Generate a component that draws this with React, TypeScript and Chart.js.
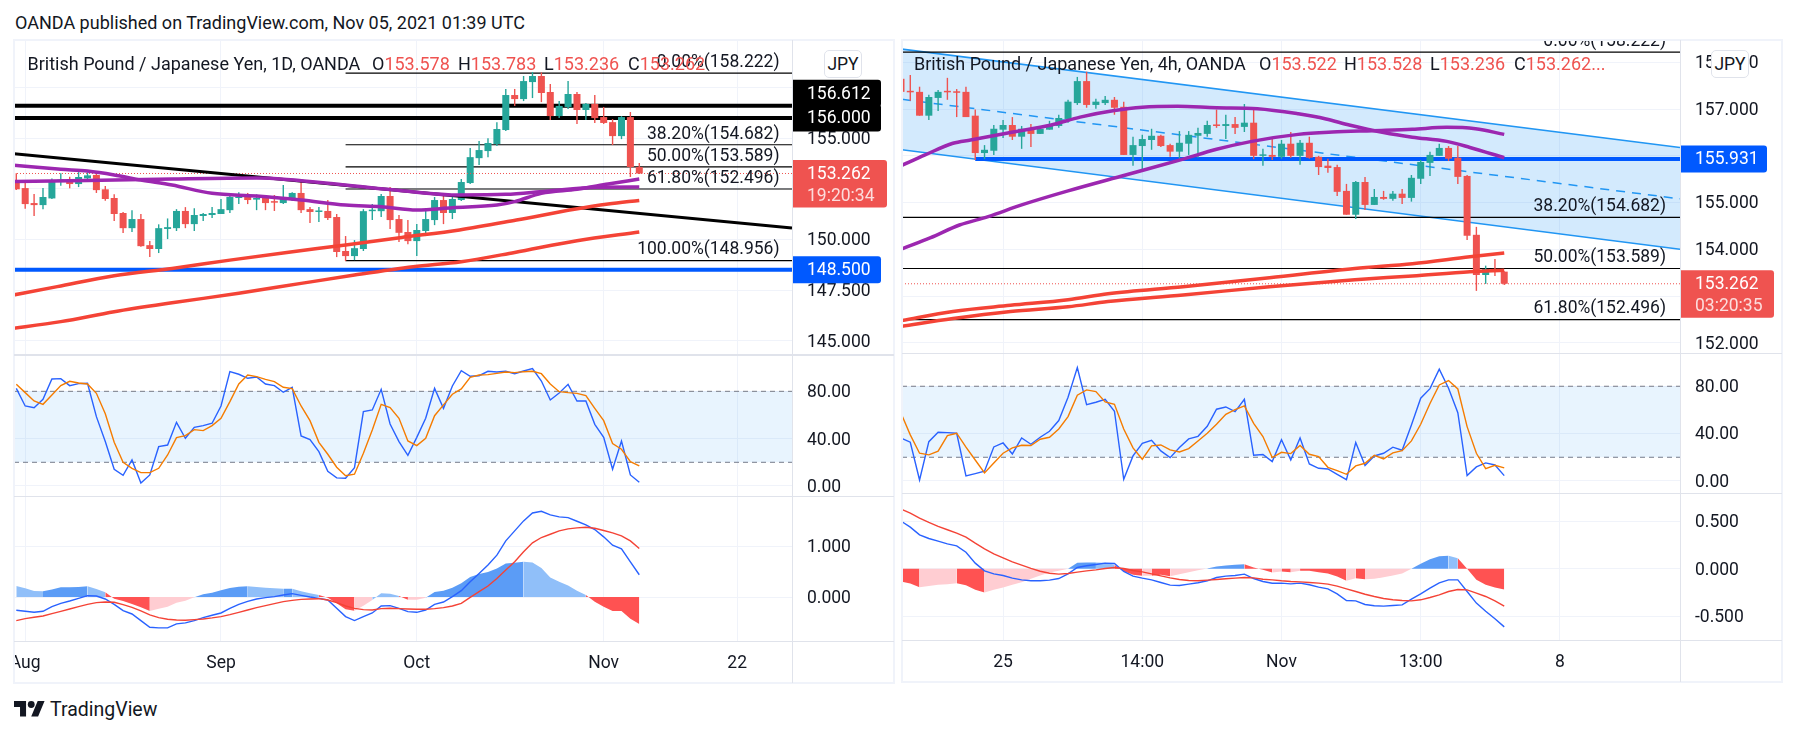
import React, { useEffect, useRef } from "react";
import { Chart, registerables } from "chart.js";
Chart.register(...registerables);

/* ---------- daily (left) ---------- */
type C = [number, number, number, number]; // open, high, low, close
const dailyCandles: C[] = [
  [152.94,153.27,152.44,152.48],[152.54,152.90,151.52,151.75],[151.80,152.25,151.16,151.70],[151.70,152.54,151.49,152.10],
  [152.03,153.02,152.00,152.94],[152.89,153.27,152.66,152.94],[152.94,153.10,152.53,152.74],[152.74,153.33,152.59,153.09],
  [153.02,153.32,152.86,153.17],[153.19,153.28,152.30,152.44],[152.48,152.64,151.92,152.00],[152.05,152.23,150.91,151.26],
  [151.31,151.36,150.32,150.56],[150.56,151.45,150.37,151.01],[151.01,151.26,149.64,149.67],[149.72,149.92,149.13,149.53],
  [149.53,150.75,149.33,150.56],[150.52,151.04,150.02,150.61],[150.56,151.50,150.42,151.41],[151.41,151.60,150.56,150.76],
  [150.76,151.55,150.42,151.21],[151.16,151.31,150.91,151.26],[151.21,151.60,151.06,151.31],[151.26,152.00,151.26,151.50],
  [151.45,152.25,151.31,152.10],[152.05,152.34,151.75,152.10],[152.10,152.30,151.75,151.95],[151.97,152.23,151.45,152.05],
  [152.05,152.15,151.45,151.80],[151.85,152.20,151.41,151.82],[151.80,152.69,151.75,152.10],[152.05,152.34,151.90,152.30],
  [152.30,152.89,151.31,151.45],[151.50,151.60,150.81,151.36],[151.36,151.60,150.86,151.41],[151.41,151.95,150.96,151.06],
  [151.11,151.26,149.13,149.38],[149.43,150.17,148.93,149.18],[149.18,149.97,148.98,149.57],[149.53,151.50,149.43,151.40],
  [151.40,151.75,150.96,151.45],[151.40,152.25,151.11,152.15],[152.15,152.59,150.52,150.96],[151.01,151.21,149.87,150.33],
  [150.37,150.96,149.77,149.92],[149.92,150.76,149.18,150.47],[150.42,151.55,150.17,151.01],[150.96,152.10,150.71,151.95],
  [151.95,152.20,150.76,151.31],[151.31,152.15,151.01,152.00],[151.95,152.99,151.90,152.84],[152.79,154.52,152.74,154.07],
  [154.02,154.87,153.68,154.42],[154.37,155.01,154.07,154.77],[154.72,155.80,154.62,155.46],[155.41,157.44,155.36,157.14],
  [157.14,157.44,156.60,156.94],[156.94,158.08,156.84,157.83],[157.78,158.28,156.99,158.08],[158.08,158.26,156.79,157.24],
  [157.29,157.68,155.90,156.10],[156.10,156.84,156.00,156.60],[156.55,157.83,156.45,157.19],[157.19,157.29,155.71,156.40],
  [156.40,156.74,155.90,156.70],[156.70,157.14,155.76,156.00],[156.05,156.55,155.71,155.76],[155.80,155.95,154.67,155.11],
  [155.11,156.10,154.96,156.05],[156.05,156.30,153.09,153.58],[153.578,153.783,153.236,153.262],
];
const dailyMaFastA: [number, number][] = [[-1,153.70],[5,153.47],[8,153.38],[11,153.19],[14,152.94],[17.5,152.69],[22,152.28],[27,152.15],[32,151.95],[37,151.70],[41,151.62],[45,151.46],[49,151.57],[54,151.70],[56,151.87],[59,152.28],[63,152.48],[66.5,152.74],[70,152.99]];
const dailyMaFastB: [number, number][] = [[-1,152.86],[8,152.91],[17.5,152.99],[27,153.04],[30.4,152.97],[37,152.69],[43.3,152.41],[49.8,152.20],[55,152.23],[59.5,152.39],[65.3,152.58],[70,152.59]];
const dailyMaSlowA: [number, number][] = [[-1,147.20],[4.6,147.67],[11,148.21],[17.5,148.57],[24,148.98],[30.4,149.36],[37,149.73],[43.3,150.10],[49.8,150.47],[56.2,150.96],[62.7,151.49],[66.5,151.75],[70,151.93]];
const dailyMaSlowB: [number, number][] = [[-1,145.57],[5,145.94],[11,146.43],[17.5,146.87],[25,147.34],[32,147.83],[38,148.24],[44.6,148.65],[50,148.90],[56,149.36],[63,149.94],[70,150.37]];
const dailyTrend: [number, number][] = [[-0.26,154.24],[87.16,150.57]];
const dailyBlackLevels = [156.612, 156.0];
const dailyBlueLevel = 148.5;
const dailyFib: [string, number][] = [["0.00%(158.222)",158.222],["38.20%(154.682)",154.682],["50.00%(153.589)",153.589],["61.80%(152.496)",152.496],["100.00%(148.956)",148.956]];
const lastPrice = 153.262;
const dailyPriceTicks = [157.5,155,152.5,150,147.5,145];
const dailyTimeTicks: [number, string][] = [[1,"Aug"],[23,"Sep"],[45,"Oct"],[66,"Nov"],[81,"22"]];
const dailyStochK = [82.5,67.6,66.2,73.2,90.4,90.7,84.8,86.5,86.8,58.6,37.5,14.1,9.0,22.0,2.5,9.3,33.2,34.6,53.8,40.3,49.6,51.0,53.0,67.6,96.6,94.4,91.0,92.1,86.2,84.8,79.2,83.4,42.3,39.2,29.0,12.4,6.8,6.5,15.5,62.8,64.2,81.7,52.4,37.5,25.9,41.1,57.2,82.5,65.6,84.5,97.5,92.7,93.2,96.9,96.3,96.9,94.9,97.2,99.2,88.7,72.7,78.6,85.9,71.8,71.8,52.1,41.1,14.1,38.0,9.3,3.1];
const dailyStochD = [85.9,78.9,71.8,69.0,76.9,84.8,88.5,87.0,86.2,78.3,61.1,36.9,20.0,14.9,11.3,11.3,14.9,26.2,40.8,42.5,47.6,46.8,51.0,57.2,71.3,86.2,93.8,92.4,90.1,88.2,83.4,82.3,67.6,55.2,36.9,26.8,15.8,8.7,9.9,27.6,47.3,69.0,66.2,57.2,38.0,34.1,40.3,59.4,68.5,77.5,82.0,91.8,93.8,94.1,95.2,96.3,95.8,96.6,96.9,94.9,86.2,79.7,78.9,78.3,76.3,65.6,55.2,35.8,31.0,20.6,16.9];
const dailyMacd = [-0.263,-0.283,-0.303,-0.283,-0.191,-0.125,-0.079,-0.026,0.026,0.020,-0.039,-0.145,-0.270,-0.336,-0.467,-0.599,-0.612,-0.612,-0.533,-0.513,-0.467,-0.408,-0.362,-0.316,-0.224,-0.145,-0.086,-0.039,-0.013,0.007,0.039,0.066,0.033,0,-0.026,-0.059,-0.224,-0.388,-0.467,-0.388,-0.316,-0.178,-0.171,-0.224,-0.289,-0.303,-0.257,-0.145,-0.099,0.007,0.125,0.303,0.467,0.632,0.829,1.112,1.309,1.507,1.664,1.697,1.625,1.586,1.572,1.500,1.428,1.336,1.191,1.026,0.954,0.697,0.441];
const dailySignal = [-0.467,-0.428,-0.401,-0.375,-0.329,-0.283,-0.237,-0.191,-0.145,-0.112,-0.099,-0.105,-0.151,-0.204,-0.276,-0.355,-0.408,-0.441,-0.454,-0.461,-0.447,-0.434,-0.414,-0.388,-0.349,-0.303,-0.257,-0.211,-0.171,-0.132,-0.092,-0.066,-0.046,-0.039,-0.033,-0.059,-0.112,-0.178,-0.224,-0.250,-0.257,-0.230,-0.224,-0.230,-0.237,-0.243,-0.243,-0.230,-0.211,-0.178,-0.125,-0.007,0.105,0.217,0.368,0.533,0.697,0.895,1.072,1.178,1.243,1.309,1.349,1.368,1.382,1.362,1.316,1.270,1.211,1.112,0.961];
const dailyHist = [0.217,0.171,0.118,0.112,0.151,0.191,0.191,0.197,0.211,0.158,0.092,-0.033,-0.079,-0.138,-0.204,-0.276,-0.230,-0.191,-0.112,-0.072,-0.007,0.053,0.086,0.132,0.178,0.204,0.211,0.197,0.184,0.171,0.164,0.164,0.112,0.072,0.039,-0.013,-0.125,-0.243,-0.270,-0.171,-0.059,0.072,0.066,0.020,-0.053,-0.053,-0.013,0.099,0.125,0.184,0.270,0.395,0.454,0.493,0.566,0.664,0.678,0.697,0.684,0.572,0.388,0.303,0.230,0.125,0.039,-0.092,-0.191,-0.276,-0.276,-0.428,-0.533];
const dailyHistKinds = "LLLLDDDDDLLRRRRRPPPPPDDDDDDLLLLDLLLRRRRPPLLLRPPDDDDDDDDDDDLLLLLLLRRRRRR";

/* ---------- 4h (right) ---------- */
const h4Candles: C[] = [
  [157.65,157.77,157.34,157.37],[157.39,157.73,157.18,157.36],[157.37,157.48,156.86,156.86],[156.86,157.31,156.77,157.26],
  [157.24,157.41,156.96,157.37],[157.38,157.67,157.20,157.36],[157.37,157.43,156.83,157.35],[157.37,157.48,156.83,156.83],
  [156.86,156.99,155.91,156.06],[156.06,156.23,155.93,156.13],[156.11,156.66,156.02,156.58],[156.56,156.77,156.38,156.66],
  [156.66,156.83,156.34,156.41],[156.41,156.64,156.15,156.58],[156.58,156.68,156.19,156.47],[156.47,156.64,156.47,156.58],
  [156.56,156.75,156.56,156.66],[156.64,156.88,156.60,156.81],[156.79,157.20,156.71,157.16],[157.13,157.69,157.09,157.60],
  [157.60,157.80,157.03,157.09],[157.09,157.22,157.01,157.16],[157.13,157.28,157.09,157.20],[157.20,157.26,156.88,157.03],
  [157.05,157.16,156.02,156.02],[156.02,156.41,155.79,156.23],[156.21,156.45,155.70,156.36],[156.34,156.58,156.13,156.43],
  [156.43,156.45,156.19,156.21],[156.23,156.26,155.98,156.09],[156.09,156.53,155.91,156.28],[156.26,156.53,156.02,156.45],
  [156.43,156.60,155.96,156.49],[156.47,156.75,156.41,156.66],[156.66,156.99,156.60,156.64],[156.64,156.88,156.36,156.68],
  [156.68,156.83,156.47,156.60],[156.62,157.11,156.51,156.71],[156.71,156.99,155.93,156.00],[156.00,156.15,155.79,156.02],
  [156.02,156.36,155.91,155.98],[155.98,156.34,155.94,156.26],[156.26,156.51,155.96,156.00],[156.00,156.34,155.81,156.28],
  [156.28,156.41,155.94,155.96],[155.98,156.00,155.59,155.76],[155.79,155.94,155.64,155.74],[155.76,155.81,155.14,155.23],
  [155.25,155.40,154.74,154.74],[154.74,155.46,154.65,155.44],[155.44,155.55,154.84,154.95],[154.95,155.29,154.95,155.12],
  [155.12,155.25,155.06,155.08],[155.08,155.25,155.04,155.19],[155.19,155.29,154.97,155.10],[155.10,155.59,155.02,155.53],
  [155.51,155.91,155.40,155.87],[155.85,156.09,155.57,156.02],[156.00,156.26,156.00,156.17],[156.17,156.21,155.89,155.94],
  [155.96,156.21,155.40,155.55],[155.57,155.59,154.20,154.29],[154.31,154.48,153.11,153.45],[153.45,153.65,153.26,153.58],
  [153.58,153.79,153.43,153.54],[153.522,153.528,153.236,153.262],
];
const h4MaA: [number, number][] = [[0,155.79],[2.6,156.02],[5.6,156.27],[7.5,156.34],[11.8,156.50],[16.2,156.66],[19.3,156.83],[23,156.97],[26,157.04],[29.8,157.06],[34,157.03],[38.4,157.01],[42.8,156.90],[45.8,156.79],[48.3,156.66],[52,156.50],[55.1,156.40],[58.8,156.31],[61.3,156.18],[65,155.96]];
const h4MaB: [number, number][] = [[0,154.00],[3.2,154.25],[6.3,154.52],[9.4,154.70],[13,154.95],[18,155.25],[24.2,155.59],[30.4,155.93],[34,156.14],[37.8,156.31],[42.8,156.46],[46.5,156.51],[50.8,156.54],[55.1,156.57],[58.8,156.61],[61.9,156.58],[65,156.46]];
const h4RedA: [number, number][] = [[0,152.47],[5.6,152.67],[11.8,152.80],[18,152.92],[22.3,153.05],[30.4,153.20],[39.7,153.39],[48.9,153.59],[55.1,153.69],[61.3,153.84],[65,153.92]];
const h4RedB: [number, number][] = [[0,152.35],[5.6,152.52],[11.8,152.67],[18,152.77],[22.3,152.88],[30.4,153.02],[39.7,153.20],[48.9,153.35],[55.1,153.43],[61.3,153.52],[65,153.55]];
const h4ChannelUpper: [number, number][] = [[0.1,158.285],[83.94,156.18]];
const h4ChannelLower: [number, number][] = [[0.1,156.13],[83.94,154.00]];
const h4ChannelMid: [number, number][] = [[0.1,157.21],[83.94,155.08]];
const h4BlueLevel = 155.931;
const h4Fib: [string, number][] = [["0.00%(158.222)",158.222],["38.20%(154.682)",154.682],["50.00%(153.589)",153.589],["61.80%(152.496)",152.496]];
const h4PriceTicks = [158,157,156,155,154,153,152];
const h4TimeTicks: [number, string][] = [[11,"25"],[26,"14:00"],[41,"Nov"],[56,"13:00"],[71,"8"]];
const h4StochK = [36.3,32.7,0.8,33.2,41.1,40.8,40.3,4.2,6.2,8.2,28.7,32.1,22.8,36.3,31.0,36.9,42.0,51.0,70.7,95.8,64.5,66.5,69.0,58.9,1.4,21.1,31.8,34.4,25.4,19.7,28.2,35.5,37.7,46.2,60.6,62.5,58.6,69.0,21.7,22.3,16.3,34.9,17.7,36.3,14.4,10.7,10.1,5.6,1.1,32.4,13.0,21.1,23.4,28.5,25.9,47.3,69.9,78.0,94.4,78.3,57.7,4.5,11.8,15.2,13.5,4.5];
const h4StochD = [57.2,38.9,23.4,22.0,25.1,38.3,40.3,28.5,17.7,6.8,15.2,23.4,27.9,30.1,29.9,35.2,36.9,43.9,54.4,72.4,76.9,75.5,66.8,64.8,43.9,27.9,18.3,29.6,30.4,26.2,24.5,27.3,33.8,40.3,47.9,56.3,60.3,63.4,48.7,37.5,19.7,24.2,23.1,29.9,22.5,20.6,11.5,8.7,5.6,12.7,14.9,21.7,18.6,23.7,25.6,33.8,47.9,65.4,81.1,84.8,77.7,45.9,23.4,10.4,13.2,11.0];
const h4Macd = [0.502,0.439,0.358,0.319,0.291,0.263,0.242,0.175,0.060,-0.021,-0.053,-0.070,-0.098,-0.116,-0.126,-0.126,-0.119,-0.102,-0.053,0.014,0.032,0.046,0.060,0.056,-0.028,-0.077,-0.098,-0.116,-0.144,-0.172,-0.175,-0.161,-0.147,-0.126,-0.091,-0.077,-0.070,-0.056,-0.102,-0.133,-0.151,-0.151,-0.158,-0.151,-0.168,-0.193,-0.211,-0.263,-0.333,-0.337,-0.375,-0.389,-0.393,-0.386,-0.379,-0.319,-0.263,-0.204,-0.147,-0.116,-0.116,-0.239,-0.361,-0.446,-0.526,-0.611];
const h4Signal = [0.628,0.586,0.533,0.488,0.446,0.411,0.375,0.333,0.270,0.211,0.158,0.116,0.074,0.039,0.004,-0.025,-0.046,-0.056,-0.049,-0.035,-0.021,-0.011,0.004,0.014,0.004,-0.018,-0.032,-0.053,-0.074,-0.095,-0.112,-0.123,-0.126,-0.119,-0.112,-0.105,-0.098,-0.091,-0.095,-0.109,-0.116,-0.126,-0.133,-0.137,-0.144,-0.151,-0.161,-0.182,-0.211,-0.239,-0.267,-0.291,-0.312,-0.326,-0.333,-0.337,-0.326,-0.302,-0.274,-0.239,-0.218,-0.221,-0.256,-0.291,-0.337,-0.393];
const h4Hist = [-0.133,-0.154,-0.193,-0.182,-0.168,-0.161,-0.151,-0.172,-0.221,-0.249,-0.221,-0.196,-0.168,-0.140,-0.105,-0.070,-0.039,-0.021,0,0.063,0.067,0.067,0.063,0.042,-0.025,-0.063,-0.074,-0.074,-0.063,-0.077,-0.056,-0.035,-0.014,0.004,0.025,0.035,0.042,0.049,0.014,-0.011,-0.039,-0.028,-0.035,-0.021,-0.021,-0.035,-0.049,-0.081,-0.126,-0.098,-0.109,-0.105,-0.088,-0.070,-0.049,0,0.053,0.102,0.133,0.137,0.112,0,-0.116,-0.168,-0.196,-0.218];
const h4HistKinds = "RRRPPPPRRRPPPPPPPPPDDDLLRRRPRRPPPPDDDDRRRPRPRRRRRPRPPPPPDDDDLRRRRR";

const stochTicks = [80, 40, 0];
const stochBand = [80, 20];
const dailyMacdTicks = [1, 0];
const h4MacdTicks = [0.5, 0, -0.5];

/* ---------- styling ---------- */
const FONT = "Roboto, 'Noto Sans', sans-serif";
const FS = 17.5;
const HEAD_FS = 18;
const INK = "#131722";
const UP = "#26a69a";
const DOWN = "#ef5350";
const GRID = "#f0f3fa";
const EDGE = "#e0e3eb";
const PURPLE = "#9c27b0";
const MARED = "#f44336";
const LEVELBLUE = "#0059ff";
const HIST: Record<string, string> = { L: "#90bff9", D: "#5b9cf6", P: "#ffcdd2", R: "#ff5252" };

const AXIS_W = 102;
const TICK_PAD = 15;
const MA_W = 3.5;

const pts = (a: [number, number][]) => a.map(([x, y]) => ({ x, y }));
const indexed = (a: number[]) => a.map((y, x) => ({ x, y }));
const line = (data: any[], color: string, width: number, extra: any = {}) => ({
  type: "line", data, borderColor: color, borderWidth: width, pointRadius: 0, tension: 0, fill: false, order: 2, ...extra,
});
const hline = (v: number, x0: number, x1: number, color: string, width: number, extra: any = {}) =>
  line([{ x: x0, y: v }, { x: x1, y: v }], color, width, extra);

const candleSets = (cs: C[]) => {
  const col = cs.map((c) => (c[3] >= c[0] ? UP : DOWN));
  return [
    { type: "bar", data: cs.map((c, x) => ({ x, y: [c[2], c[1]] })), backgroundColor: col, barThickness: 1.4, grouped: false, inflateAmount: 0, order: 6 },
    { type: "bar", data: cs.map((c, x) => ({ x, y: [c[0], c[3]] })), backgroundColor: col, barThickness: 7, minBarLength: 1.5, grouped: false, inflateAmount: 0, order: 5 },
  ];
};

type Badge = { text: string; value: number; color: string; w: number; dy?: number; sub?: string };
type Note = { text: string; value: number };

const overlay = (notes: Note[], noteRight: number, badges: Badge[]) => ({
  id: "overlay",
  afterDraw(chart: any) {
    const { ctx, scales: { y } } = chart;
    const right = chart.chartArea.right;
    ctx.save();
    ctx.font = `${FS}px ${FONT}`;
    ctx.textBaseline = "middle";
    ctx.textAlign = "right";
    ctx.fillStyle = INK;
    notes.forEach((n) => ctx.fillText(n.text, noteRight, y.getPixelForValue(n.value) - 10.5));
    ctx.textAlign = "left";
    badges.forEach((b) => {
      const c = y.getPixelForValue(b.value) + (b.dy || 0);
      const top = c - 13.5;
      const h = b.sub ? 47.5 : 27;
      ctx.fillStyle = b.color;
      ctx.beginPath();
      ctx.roundRect(right, top, b.w, h, [0, 3, 3, 0]);
      ctx.fill();
      ctx.fillStyle = "#ffffff";
      ctx.fillText(b.text, right + TICK_PAD, c + 1);
      if (b.sub) {
        ctx.fillStyle = "rgba(255,255,255,0.8)";
        ctx.fillText(b.sub, right + TICK_PAD, c + 23);
      }
    });
    ctx.restore();
  },
});

const scalesFor = (
  xr: [number, number], timeTicks: [number, string][], yr: [number, number], yTicks: number[], digits: number, showTime: boolean,
) => ({
  x: {
    type: "linear", min: xr[0], max: xr[1], offset: false,
    grid: { color: GRID, drawTicks: false, offset: false },
    border: { display: false },
    afterBuildTicks: (s: any) => { s.ticks = timeTicks.map(([value]) => ({ value })); },
    afterFit: (s: any) => { s.height = showTime ? 42 : 0; s.paddingLeft = 0; s.paddingRight = 0; },
    ticks: {
      display: showTime, autoSkip: false, maxRotation: 0, minRotation: 0, padding: 12, color: INK,
      font: { family: FONT, size: FS },
      callback: (v: number) => (timeTicks.find((t) => t[0] === v) || [0, ""])[1],
    },
  },
  y: {
    type: "linear", position: "right", min: yr[0], max: yr[1],
    grid: { color: GRID, drawTicks: false },
    border: { display: false },
    afterBuildTicks: (s: any) => { s.ticks = yTicks.map((value) => ({ value })); },
    afterFit: (s: any) => { s.width = AXIS_W; s.paddingTop = 0; s.paddingBottom = 0; },
    ticks: {
      autoSkip: false, crossAlign: "near", padding: TICK_PAD, color: INK, labelOffset: 1.5,
      font: { family: FONT, size: FS },
      callback: (v: number) => v.toFixed(digits),
    },
  },
});

const baseOptions = (scales: any) => ({
  responsive: false, animation: false, maintainAspectRatio: false,
  layout: { padding: 0, autoPadding: false },
  plugins: { legend: { display: false }, tooltip: { enabled: false }, title: { display: false } },
  scales,
});

const stochConfig = (xr: [number, number], tt: [number, string][], yr: [number, number], k: number[], d: number[]) => ({
  type: "line",
  data: {
    datasets: [
      hline(stochBand[0], xr[0], xr[1], "#787b86", 1, { borderDash: [5, 4], fill: "+1", backgroundColor: "rgba(33,150,243,0.1)", order: 4 }),
      hline(stochBand[1], xr[0], xr[1], "#787b86", 1, { borderDash: [5, 4], order: 4 }),
      line(indexed(k), "#2962ff", 1.4, { order: 3 }),
      line(indexed(d), "#f57c00", 1.4, { order: 2 }),
    ],
  },
  options: baseOptions(scalesFor(xr, tt, yr, stochTicks, 2, false)),
});

const macdConfig = (xr: [number, number], tt: [number, string][], yr: [number, number], ticks: number[], hist: number[], kinds: string, m: number[], s: number[]) => ({
  type: "line",
  data: {
    datasets: [
      line(indexed(hist), "rgba(0,0,0,0)", 0, {
        order: 4, fill: "origin", backgroundColor: HIST.D,
        segment: { backgroundColor: (c: any) => HIST[kinds[c.p1DataIndex]] },
      }),
      line(indexed(m), "#2962ff", 1.4, { order: 3 }),
      line(indexed(s), MARED, 1.4, { order: 2 }),
    ],
  },
  options: baseOptions(scalesFor(xr, tt, yr, ticks, 3, true)),
});

const dailyX: [number, number] = [-0.258, 87.16];
const h4X: [number, number] = [0.108, 83.94];
const dailyFibStart = 37;
const h4BlueStart = 8;

const dailyMain = () => ({
  type: "line",
  data: {
    datasets: [
      ...dailyBlackLevels.map((v) => hline(v, dailyX[0], dailyX[1], "#000000", 4, { order: 8 })),
      hline(dailyBlueLevel, dailyX[0], dailyX[1], LEVELBLUE, 4, { order: 8 }),
      ...dailyFib.map(([, v]) => hline(v, dailyFibStart, dailyX[1], "#000000", 1.2, { order: 8 })),
      ...candleSets(dailyCandles),
      hline(lastPrice, dailyX[0], dailyX[1], DOWN, 1, { borderDash: [1, 2], order: 4 }),
      line(pts(dailyTrend), "#000000", 3, { order: 3 }),
      ...[dailyMaSlowA, dailyMaSlowB].map((a) => line(pts(a), MARED, MA_W, { cubicInterpolationMode: "monotone", order: 2 })),
      ...[dailyMaFastA, dailyMaFastB].map((a) => line(pts(a), PURPLE, MA_W, { cubicInterpolationMode: "monotone", order: 2 })),
    ],
  },
  options: baseOptions(scalesFor(dailyX, dailyTimeTicks, [144.34, 159.86], dailyPriceTicks, 3, false)),
  plugins: [overlay(
    dailyFib.map(([text, value]) => ({ text, value })), 765.5,
    [
      { text: "156.612", value: dailyBlackLevels[0], color: "#000000", w: 89, dy: -12.5 },
      { text: "156.000", value: dailyBlackLevels[1], color: "#000000", w: 89 },
      { text: "148.500", value: dailyBlueLevel, color: LEVELBLUE, w: 89 },
      { text: "153.262", value: lastPrice, color: DOWN, w: 95, sub: "19:20:34" },
    ],
  )],
});

const h4Main = () => ({
  type: "line",
  data: {
    datasets: [
      line(pts(h4ChannelUpper), "#2196f3", 1.5, { fill: "+1", backgroundColor: "rgba(33,150,243,0.2)", order: 10 }),
      line(pts(h4ChannelLower), "#2196f3", 1.5, { order: 10 }),
      line(pts(h4ChannelMid), "#2196f3", 1.5, { borderDash: [9, 7], order: 9 }),
      hline(h4BlueLevel, h4BlueStart, h4X[1], LEVELBLUE, 4, { order: 8 }),
      ...h4Fib.map(([, v]) => hline(v, h4X[0], h4X[1], "#000000", 1.2, { order: 8 })),
      ...candleSets(h4Candles),
      hline(lastPrice, h4X[0], h4X[1], DOWN, 1, { borderDash: [1, 2], order: 4 }),
      ...[h4RedA, h4RedB].map((a) => line(pts(a), MARED, MA_W, { cubicInterpolationMode: "monotone", order: 2 })),
      ...[h4MaA, h4MaB].map((a) => line(pts(a), PURPLE, MA_W, { cubicInterpolationMode: "monotone", order: 2 })),
    ],
  },
  options: baseOptions(scalesFor(h4X, h4TimeTicks, [151.78, 158.48], h4PriceTicks, 3, false)),
  plugins: [overlay(
    h4Fib.map(([text, value]) => ({ text, value })), 764,
    [
      { text: "155.931", value: h4BlueLevel, color: LEVELBLUE, w: 87 },
      { text: "153.262", value: lastPrice, color: DOWN, w: 94, sub: "03:20:35" },
    ],
  )],
});

function Pane({ left, top, height, make }: { left: number; top: number; height: number; make: () => any }) {
  const ref = useRef<HTMLCanvasElement>(null);
  useEffect(() => {
    const chart = new Chart(ref.current as any, make());
    return () => chart.destroy();
  }, []);
  return <canvas ref={ref} width={880} height={height} style={{ position: "absolute", left, top, width: 880, height }} />;
}

function Txt({ x, y, color = INK, size = HEAD_FS, weight, children }: any) {
  return (
    <div style={{ position: "absolute", left: x, top: y, transform: "translateY(-50%)", color, fontFamily: FONT, fontSize: size, fontWeight: weight, whiteSpace: "nowrap", lineHeight: 1.2, zIndex: 5 }}>
      {children}
    </div>
  );
}

function Rect({ x, y, w, h, color }: any) {
  return <div style={{ position: "absolute", left: x, top: y, width: w, height: h, background: color, zIndex: 4 }} />;
}

function Legend({ x, y, title, o, h, l, c, px }: any) {
  const red = DOWN;
  return (
    <>
      <Txt x={x} y={y}>{title}</Txt>
      <Txt x={px[0]} y={y}>O<span style={{ color: red }}>{o}</span></Txt>
      <Txt x={px[1]} y={y}>H<span style={{ color: red }}>{h}</span></Txt>
      <Txt x={px[2]} y={y}>L<span style={{ color: red }}>{l}</span></Txt>
      <Txt x={px[3]} y={y}>C<span style={{ color: red }}>{c}</span></Txt>
    </>
  );
}

function JpyBox({ x }: { x: number }) {
  return (
    <div style={{ position: "absolute", left: x, top: 50, width: 38, height: 28, boxSizing: "border-box", border: `1px solid ${EDGE}`, borderRadius: 5, background: "#fff", color: INK, fontFamily: FONT, fontSize: FS, lineHeight: "26px", textAlign: "center", zIndex: 6 }}>
      JPY
    </div>
  );
}

export default function App() {
  return (
    <div style={{ position: "absolute", left: 0, top: 0, width: 1796, height: 736, overflow: "hidden", background: "#fff" }}>
      <Txt x={15} y={23}>OANDA published on TradingView.com, Nov 05, 2021 01:39 UTC</Txt>

      <Pane left={14} top={40} height={314} make={dailyMain} />
      <Pane left={14} top={355} height={141} make={() => stochConfig(dailyX, dailyTimeTicks, [-8.5, 110.7], dailyStochK, dailyStochD)} />
      <Pane left={14} top={496} height={187} make={() => macdConfig(dailyX, dailyTimeTicks, [-0.871, 2.0], dailyMacdTicks, dailyHist, dailyHistKinds, dailyMacd, dailySignal)} />

      <Pane left={902} top={40} height={313} make={h4Main} />
      <Pane left={902} top={353} height={140} make={() => stochConfig(h4X, h4TimeTicks, [-10.2, 108.1], h4StochK, h4StochD)} />
      <Pane left={902} top={493} height={189} make={() => macdConfig(h4X, h4TimeTicks, [-0.749, 0.798], h4MacdTicks, h4Hist, h4HistKinds, h4Macd, h4Signal)} />

      {/* frames and separators */}
      <Rect x={13} y={39} w={882} h={2} color={GRID} />
      <Rect x={13} y={39} w={2} h={645} color={GRID} />
      <Rect x={13} y={682} w={882} h={2} color={GRID} />
      <Rect x={893} y={39} w={2} h={645} color={GRID} />
      <Rect x={14} y={354} w={880} h={1.5} color={EDGE} />
      <Rect x={14} y={495.5} w={880} h={1.5} color={EDGE} />
      <Rect x={14} y={640.5} w={880} h={1.5} color={EDGE} />
      <Rect x={791.5} y={40} w={1} h={643} color={EDGE} />

      <Rect x={901} y={39} w={882} h={2} color={GRID} />
      <Rect x={901} y={39} w={2} h={644} color={GRID} />
      <Rect x={901} y={681} w={882} h={2} color={GRID} />
      <Rect x={1781} y={39} w={2} h={644} color={GRID} />
      <Rect x={902} y={352.5} w={880} h={1.5} color={EDGE} />
      <Rect x={902} y={492.5} w={880} h={1.5} color={EDGE} />
      <Rect x={902} y={639.5} w={880} h={1.5} color={EDGE} />
      <Rect x={1679.5} y={40} w={1} h={642} color={EDGE} />

      <Legend x={27.5} y={64} title="British Pound / Japanese Yen, 1D, OANDA" o="153.578" h="153.783" l="153.236" c="153.262" px={[372, 458, 544, 628]} />
      <Legend x={914} y={64} title="British Pound / Japanese Yen, 4h, OANDA" o="153.522" h="153.528" l="153.236" c="153.262..." px={[1259, 1344, 1430, 1514]} />
      <JpyBox x={824} />
      <JpyBox x={1711} />

      <svg viewBox="0 4 36 18" width={31} height={15.5} style={{ position: "absolute", left: 14, top: 701 }}>
        <path d="M14 22H7V11H0V4h14v18zM28 22h-8l7.5-18h8L28 22z" fill="#131722" />
        <circle cx="20" cy="8" r="4" fill="#131722" />
      </svg>
      <Txt x={50} y={710} size={19.5}>TradingView</Txt>
    </div>
  );
}
